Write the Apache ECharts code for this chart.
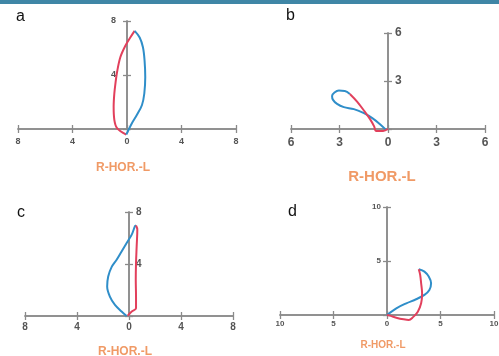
<!DOCTYPE html>
<html><head><meta charset="utf-8">
<script src="https://cdn.jsdelivr.net/npm/echarts@6/dist/echarts.min.js"></script>
<style>html,body{margin:0;padding:0;background:#fff}#c{width:499px;height:356px}</style>
</head><body><div id="c"></div>
<script>
// ---- data (x: R negative / L positive, y: vertical) ----
const panelLetters = ['a', 'b', 'c', 'd'];
const axisTitle = 'R-HOR.-L';
const axisRanges = [8, 6, 8, 10];      // symmetric x range, y from 0
const axisIntervals = [4, 3, 4, 5];

const aRed = [[-0.05,-0.41],[-0.73,0.07],[-0.93,0.68],[-0.98,1.66],[-0.93,2.63],[-0.85,3.37],[-0.73,4.22],[-0.49,5.32],[-0.12,6.17],[0.24,6.78],[0.56,7.27]];
const aBlue = [[0.56,7.27],[0.93,6.78],[1.17,6.05],[1.29,5.07],[1.34,3.85],[1.27,2.63],[1.10,1.78],[0.73,1.05],[0.37,0.44],[-0.05,-0.41]];

const bBlue = [[-0.14,-0.04],[-0.46,0.27],[-0.97,0.68],[-1.49,0.99],[-2.11,1.24],[-2.73,1.37],[-3.15,1.57],[-3.40,1.82],[-3.46,2.07],[-3.31,2.28],[-3.04,2.40],[-2.67,2.38],[-2.36,2.19]];
const bRed = [[-2.36,2.19],[-1.90,1.70],[-1.45,1.10],[-1.10,0.60],[-0.85,0.15],[-0.75,-0.12],[-0.30,-0.12],[0,0]];

const cBlue = [[-0.18,0],[-0.57,0.34],[-1.08,0.85],[-1.47,1.49],[-1.68,2.27],[-1.60,3.04],[-1.34,3.76],[-0.95,4.33],[-0.57,4.97],[-0.18,5.62],[0.21,6.26],[0.46,6.91],[0.54,6.96]];
const cRed = [[0.54,6.96],[0.64,6.65],[0.59,5.36],[0.54,4.07],[0.52,2.78],[0.54,1.49],[0.54,0.59],[0.21,0.34],[-0.10,0.03]];

const dBlue = [[0,0],[0.87,0.62],[1.80,1.08],[2.72,1.46],[3.50,1.86],[3.96,2.32],[4.12,2.94],[3.90,3.56],[3.50,4.02],[2.97,4.24]];
const dRed = [[2.97,4.24],[3.10,3.72],[3.19,2.94],[3.28,2.01],[3.19,1.08],[2.88,0.31],[2.41,-0.22],[2.04,-0.46],[1.55,-0.40],[0.87,-0.25],[0.25,-0.06],[0,0]];

const panelSeries = [[aRed, aBlue], [bBlue, bRed], [cBlue, cRed], [dBlue, dRed]];
const panelSeriesColors = [['red','blue'], ['blue','red'], ['blue','red'], ['blue','red']];

// ---- layout / style ----
const grids = [
  {left: 18, top: 21, width: 218, height: 108},
  {left: 291, top: 33, width: 194, height: 96},
  {left: 25, top: 212, width: 208, height: 104},
  {left: 280, top: 207, width: 214, height: 108}
].map(g => Object.assign(g, {outerBoundsMode: 'none', containLabel: false}));
const labelStyle = [
  {xs: 9, xm: 8, ys: 9, ym: 11, ypos: 'left', tick: 4},
  {xs: 12, xm: 8, ys: 12, ym: 7, ypos: 'right', tick: 4},
  {xs: 10, xm: 6, ys: 10, ym: 7, ypos: 'right', tick: 4},
  {xs: 8, xm: 5, ys: 8, ym: 6, ypos: 'left', tick: 4}
];
const COL = {red: '#e2405c', blue: '#2f8ec9'};
const axisColor = '#8a8a8a';
const labColor = '#555';

const xAxes = [], yAxes = [], series = [];
grids.forEach((g, p) => {
  const R = axisRanges[p], I = axisIntervals[p], L = labelStyle[p];
  const line = {onZero: false, lineStyle: {color: axisColor, width: 1.5}};
  [0, 1].forEach(k => {
    xAxes.push({
      type: 'value', gridIndex: p, min: -R, max: R, interval: I,
      position: k === 0 ? 'bottom' : 'top',
      offset: k === 0 ? 0 : -g.height,
      axisLine: line,
      axisTick: {show: true, length: L.tick, lineStyle: {color: axisColor, width: 1.3}},
      axisLabel: {show: k === 0, margin: L.xm, fontSize: L.xs, fontWeight: 'bold', color: labColor,
        fontFamily: 'Liberation Sans, Arial, sans-serif', formatter: v => String(Math.abs(v))},
      splitLine: {show: false}
    });
    const ypos = k === 0 ? L.ypos : (L.ypos === 'left' ? 'right' : 'left');
    yAxes.push({
      type: 'value', gridIndex: p, min: 0, max: R, interval: I,
      position: ypos,
      offset: -g.width / 2,
      axisLine: line,
      axisTick: {show: true, length: L.tick, lineStyle: {color: axisColor, width: 1.3}},
      axisLabel: {show: k === 0, margin: L.ym, fontSize: L.ys, fontWeight: 'bold', color: labColor,
        fontFamily: 'Liberation Sans, Arial, sans-serif', formatter: v => v === 0 ? '' : String(v)},
      splitLine: {show: false}
    });
  });
  panelSeries[p].forEach((data, s) => {
    series.push({
      type: 'line', xAxisIndex: 2 * p, yAxisIndex: 2 * p, data: data,
      showSymbol: false, smooth: 0.35, clip: false, silent: true,
      lineStyle: {color: COL[panelSeriesColors[p][s]], width: 2}
    });
  });
});

const titlePos = [
  {x: 123, y: 168, size: 12},
  {x: 382, y: 177, size: 15},
  {x: 125, y: 352, size: 12},
  {x: 383, y: 345, size: 10}
];
const letterPos = [[16, 17], [286, 16], [17, 213], [288, 212]];
const graphics = [{type: 'rect', shape: {x: 0, y: 0, width: 499, height: 4}, style: {fill: '#3f86a6'}}];
titlePos.forEach((t, i) => {
  graphics.push({type: 'text', x: t.x, y: t.y, style: {text: axisTitle, fill: '#f09a66',
    font: 'bold ' + t.size + 'px Liberation Sans, Arial, sans-serif', align: 'center', verticalAlign: 'middle'}});
  graphics.push({type: 'text', x: letterPos[i][0], y: letterPos[i][1], style: {text: panelLetters[i], fill: '#111',
    font: '16px Liberation Sans, Arial, sans-serif', align: 'left', verticalAlign: 'middle'}});
});

const chart = echarts.init(document.getElementById('c'), null, {renderer: 'canvas'});
chart.setOption({
  animation: false,
  backgroundColor: '#fff',
  grid: grids,
  xAxis: xAxes,
  yAxis: yAxes,
  series: series,
  graphic: graphics
});
</script>
</body></html>
